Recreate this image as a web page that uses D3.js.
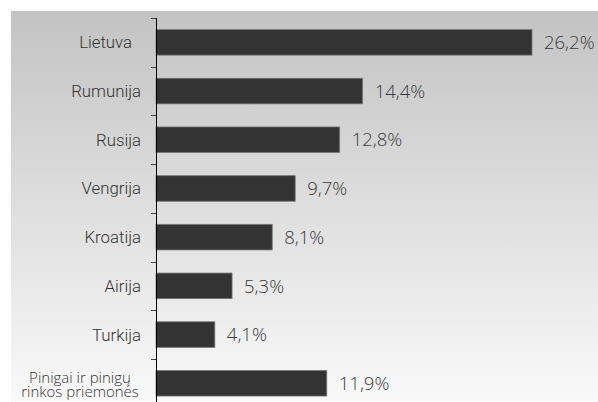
<!DOCTYPE html>
<html><head><meta charset="utf-8">
<script src="https://cdn.jsdelivr.net/npm/d3@7"></script>
<style>html,body{margin:0;padding:0;background:#fff;}svg{display:block;}</style>
</head><body>
<svg id="c" width="598" height="402"></svg>
<script>
const categories = ["Lietuva", "Rumunija", "Rusija", "Vengrija", "Kroatija", "Airija", "Turkija", "Pinigai ir pinigų|rinkos priemonės"];
const values = [26.2, 14.4, 12.8, 9.7, 8.1, 5.3, 4.1, 11.9];
const valueLabels = ["26,2%", "14,4%", "12,8%", "9,7%", "8,1%", "5,3%", "4,1%", "11,9%"];

const svg = d3.select("#c");
const W = 598, H = 402;
const defs = svg.append("defs");
const grad = defs.append("linearGradient").attr("id","bg").attr("x1",0).attr("y1",0).attr("x2",0).attr("y2",1);
grad.append("stop").attr("offset","0%").attr("stop-color","#c3c3c3");
grad.append("stop").attr("offset","100%").attr("stop-color","#f9f9f9");
svg.append("rect").attr("x",11).attr("y",11).attr("width",W-11).attr("height",H-11).attr("fill","url(#bg)");

const x0 = 156;
const x = d3.scaleLinear().domain([0, 26.2]).range([x0, 532]);
const y = d3.scaleBand().domain(categories).range([18, 18 + 8*48.7]).paddingInner(0.474).paddingOuter(0.237);

const catFont = "Roboto, 'Helvetica Neue', Arial, sans-serif";
const valFont = "'Open Sans', 'Liberation Sans', Arial, sans-serif";

svg.selectAll("rect.bar").data(values).join("rect").attr("class","bar")
  .attr("x", x(0)).attr("y", (d,i)=>y(categories[i]))
  .attr("width", d=>x(d)-x(0)).attr("height", y.bandwidth())
  .attr("fill","#333333").attr("stroke","#7a7a7a").attr("stroke-width",0.8);

svg.selectAll("text.val").data(values).join("text").attr("class","val")
  .attr("x", d=>x(d)+12).attr("y", (d,i)=>y(categories[i])+y.bandwidth()/2)
  .attr("dy","0.36em").attr("font-family",valFont).attr("font-weight",300)
  .attr("font-size",18.5).attr("fill","#3a3a3a").text((d,i)=>valueLabels[i]);

// axis
const axis = d3.axisLeft(y).tickSize(0).tickFormat("");
const g = svg.append("g").attr("transform",`translate(${x0},0)`).call(axis);
g.select(".domain").attr("stroke","#000").attr("d",`M0.5,18V${H}`);
// boundary ticks
const bounds = categories.map(c => y(c) - y.step()*y.paddingInner()/2);
g.selectAll("line.bt").data(bounds).join("line").attr("class","bt")
  .attr("x1",-5).attr("x2",0).attr("y1",d=>Math.round(d)+0.5).attr("y2",d=>Math.round(d)+0.5)
  .attr("stroke","#444");

// category labels
const lab = svg.selectAll("text.cat").data(categories).join("text").attr("class","cat")
  .attr("y", d=>y(d)+y.bandwidth()/2)
  .attr("font-family",catFont).attr("font-weight",300).attr("font-size",16.8).attr("fill","#333");
lab.each(function(d){
  const parts = d.split("|");
  const t = d3.select(this);
  if (parts.length === 1) {
    t.attr("x", d==="Lietuva" ? 132 : 141).attr("text-anchor","end").attr("dy","0.36em").text(d);
  } else {
    t.attr("x",80).attr("text-anchor","middle").attr("font-family",valFont).attr("font-weight",300)
     .attr("font-size",15).attr("fill","#333");
    parts.forEach((p,k)=>{
      t.append("tspan").attr("x",80).attr("dy", k===0 ? -0.7 : 14.4).text(p);
    });
  }
});
</script>
</body></html>
